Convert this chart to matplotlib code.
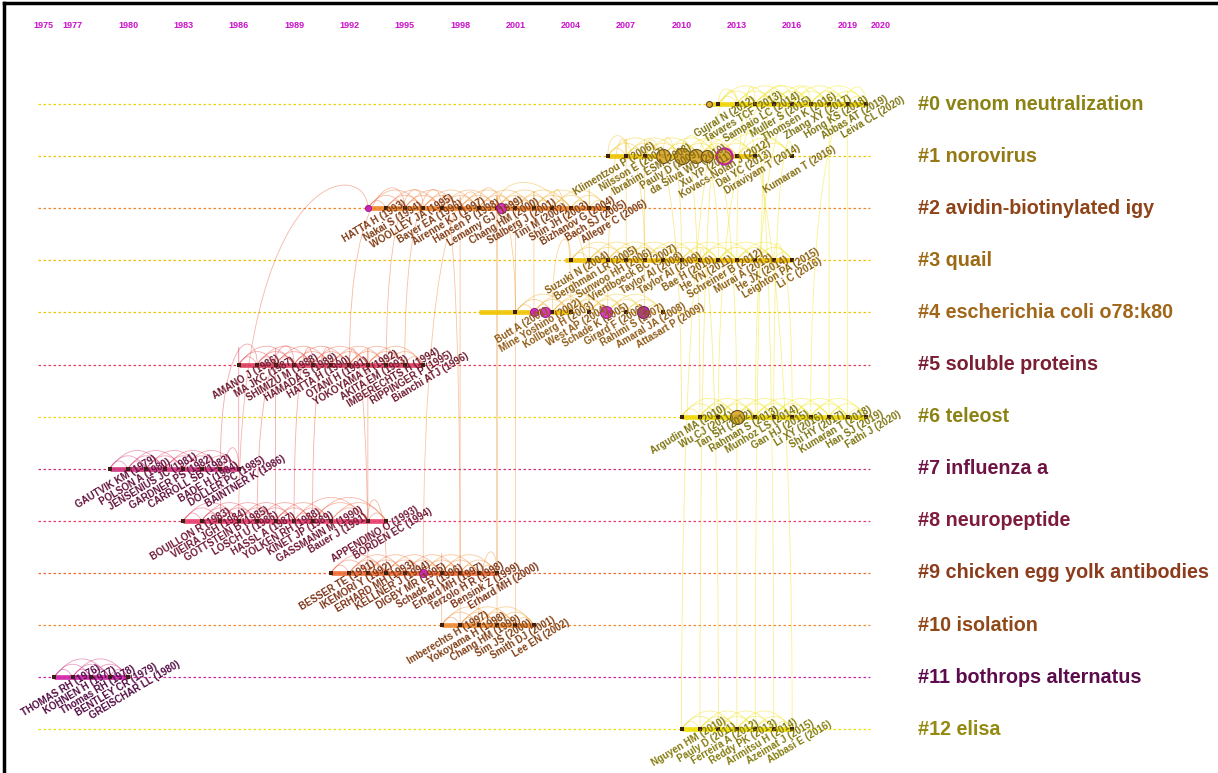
import numpy as np
import matplotlib.pyplot as plt
from matplotlib.colors import LinearSegmentedColormap, to_rgb
from matplotlib.path import Path
from matplotlib.patches import PathPatch

plt.rcParams['font.family'] = ['Liberation Sans', 'DejaVu Sans']

# --- timeline data ---
tick_labels = ['1975', '1977', '1980', '1983', '1986', '1989', '1992', '1995', '1998',
               '2001', '2004', '2007', '2010', '2013', '2016', '2019', '2020']
tick_pos = [1975.4, 1977, 1980, 1983, 1986, 1989, 1992, 1995, 1998,
            2001, 2004, 2007, 2010, 2013, 2016, 2019, 2020.8]

cluster_names = ['#0 venom neutralization', '#1 norovirus', '#2 avidin-biotinylated igy',
                 '#3 quail', '#4 escherichia coli o78:k80', '#5 soluble proteins',
                 '#6 teleost', '#7 influenza a', '#8 neuropeptide',
                 '#9 chicken egg yolk antibodies', '#10 isolation',
                 '#11 bothrops alternatus', '#12 elisa']

authors = [
    ['Gujral N', 'Tavares TCF', 'Sampaio LC', 'Muller S', 'Thomsen K', 'Zhang XY',
     'Hong KS', 'Abbas AT', 'Leiva CL'],
    ['Klimentzou P', 'Nilsson E', 'Ibrahim ESM', 'Pauly D', 'da Silva WD', 'Xu YP',
     'Kovacs-Nolan J', 'Dai YC', 'Diraviyam T', 'Kumaran T'],
    ['HATTA H', 'Nakai S', 'WOOLLEY JA', 'Bayer EA', 'Airenne KJ', 'Hansen P',
     'Lemamy GJ', 'Chang HM', 'Stalberg J', 'Tini M', 'Shin JH', 'Bizhanov G',
     'Bach SJ', 'Allegre C'],
    ['Suzuki N', 'Berghman LR', 'Sunwoo HH', 'Viertlboeck BC', 'Taylor AI', 'Taylor AI',
     'Bae H', 'He YN', 'Schreiner B', 'Murai A', 'He JX', 'Leighton PA', 'Li C'],
    ['Butt A', 'Mine Yoshino', 'Kollberg H', 'West AP', 'Schade K', 'Girard F',
     'Rahimi S', 'Amaral JA', 'Attasart P'],
    ['AMANO J', 'MA JKC', 'SHIMIZU M', 'HAMADA S', 'HATTA H', 'OTANI H', 'YOKOYAMA H',
     'AKITA EM', 'IMBERECHTS H', 'RIPPINGER P', 'Bianchi ATJ'],
    ['Argudin MA', 'Wu CJ', 'Tan SH', 'Rahman S', 'Munhoz LS', 'Gan HJ', 'Li XY',
     'Shi HY', 'Kumaran T', 'Han SJ', 'Fathi J'],
    ['GAUTVIK KM', 'POLSON A', 'JENSENIUS JC', 'GARDNER PS', 'CARROLL SB', 'BADE H',
     'DOLLER PC', 'BAINTNER K'],
    ['BOUILLON R', 'VIEIRA JGH', 'GOTTSTEIN B', 'LOSCH U', 'HASSL A', 'YOLKEN RH',
     'KINET JP', 'GASSMANN M', 'Bauer J', 'APPENDINO O', 'BORDEN EC'],
    ['BESSER TE', 'IKEMORI Y', 'ERHARD MH', 'KELLNER J', 'DIGBY MR', 'Schade R',
     'Erhard MH', 'Terzolo H R', 'Bensink Z', 'Erhard MH'],
    ['Imberechts H', 'Yokoyama H', 'Chang HM', 'Sim JS', 'Smith DJ', 'Lee EN'],
    ['THOMAS RH', 'KOHNEN H', 'Thomas RH', 'BENTLEY CR', 'GREISCHAR LL'],
    ['Nguyen HM', 'Pauly D', 'Ferreira A', 'Reddy PK', 'Arimitsu H', 'Azeimat J',
     'Abbasi E'],
]

years = [
    [2012, 2013, 2014, 2015, 2016, 2017, 2018, 2019, 2020],
    [2006, 2007, 2008, 2009, 2010, 2011, 2012, 2013, 2014, 2016],
    [1993, 1994, 1995, 1996, 1997, 1998, 1999, 2000, 2001, 2002, 2003, 2004, 2005, 2006],
    [2004, 2005, 2006, 2007, 2008, 2009, 2010, 2011, 2012, 2013, 2014, 2015, 2016],
    [2001, 2002, 2003, 2004, 2005, 2006, 2007, 2008, 2009],
    [1986, 1987, 1988, 1989, 1990, 1991, 1992, 1993, 1994, 1995, 1996],
    [2010, 2011, 2012, 2013, 2014, 2015, 2016, 2017, 2018, 2019, 2020],
    [1979, 1980, 1981, 1982, 1983, 1984, 1985, 1986],
    [1983, 1984, 1985, 1986, 1987, 1988, 1989, 1990, 1991, 1993, 1994],
    [1991, 1992, 1993, 1994, 1995, 1996, 1997, 1998, 1999, 2000],
    [1997, 1998, 1999, 2000, 2001, 2002],
    [1976, 1977, 1978, 1979, 1980],
    [2010, 2011, 2012, 2013, 2014, 2015, 2016],
]

# active span of each cluster (thick bar)
span_start = [2011.5, 2006, 1993, 2003.7, 1999, 1986, 2010, 1979, 1983, 1991, 1997, 1976, 2010]
span_end = [2020, 2014, 2006, 2016, 2004, 1996, 2020, 1986, 1994, 2000, 2002, 1980, 2016]

# highly cited / high-centrality nodes: cluster, year, radius (px), kind
big_cluster = [1, 1, 1, 1, 1, 2, 2, 4, 4, 4, 4, 6, 9, 0]
big_year = [2009, 2010, 2010.8, 2011.4, 2012.3, 1993, 2000.2, 2002, 2002.6, 2005.9, 2007.9, 2013, 1996, 2011.5]
big_size = [7, 8, 7, 6, 8, 3, 5, 4, 5, 6, 6, 7, 4, 3]
big_kind = ['tan', 'tan', 'tan', 'tan', 'ring', 'magenta', 'magenta', 'magenta', 'magenta',
            'magenta', 'purple', 'tan', 'magenta', 'tan']

# links between clusters: (cluster, year) -> (cluster, year)
link_from = [(12, 2010), (12, 2011), (12, 2013), (12, 2014), (12, 2015), (6, 2012), (6, 2013),
             (6, 2014), (6, 2016), (6, 2018), (6, 2019), (3, 2010), (3, 2012), (3, 2013),
             (6, 2011), (12, 2012), (6, 2015), (4, 2006), (4, 2008), (3, 2008), (6, 2010),
             (12, 2016), (10, 2001), (9, 2000), (10, 1998), (4, 2001), (9, 1998), (5, 1992),
             (8, 1988), (8, 1987), (8, 1989), (8, 1986), (7, 1985), (7, 1986), (8, 1990),
             (9, 1993), (9, 1994), (8, 1993), (10, 1997), (4, 2002), (5, 1994), (4, 2003),
             (3, 2005), (8, 1985), (5, 1995), (9, 1996), (10, 1999), (4, 2004), (3, 2007),
             (6, 2017), (4, 2005), (10, 2000)]
link_to = [(0, 2013), (1, 2012), (6, 2013), (0, 2015), (1, 2014), (0, 2016), (1, 2011),
           (0, 2017), (3, 2015), (0, 2018), (0, 2019), (1, 2009), (1, 2010), (0, 2014),
           (1, 2010), (3, 2011), (1, 2016), (1, 2007), (1, 2008), (1, 2006), (1, 2008),
           (0, 2012), (2, 2001), (2, 2000), (2, 1998), (2, 1999), (2, 1997), (2, 1995),
           (5, 1988), (5, 1989), (5, 1990), (2, 1993), (5, 1987), (5, 1986), (5, 1991),
           (5, 1992), (8, 1993), (5, 1993), (9, 1997), (2, 2002), (2, 1996), (3, 2004),
           (2, 2005), (7, 1986), (2, 1997), (2, 1999), (9, 2000), (2, 2003), (1, 2007),
           (0, 2020), (2, 2000), (2, 2000)]

# --- styling ---
label_colors = ['#8c8214', '#957a14', '#8e4418', '#9c6a14', '#a0661a', '#7a1e34', '#8c8214',
                '#6e1444', '#7e1c3c', '#8c3c1c', '#904818', '#5c0c4c', '#948a10']
line_colors = ['#f0d400', '#ecc400', '#f08428', '#f0c000', '#f0c400', '#e03a5c', '#f0d800',
               '#d0307a', '#e83a6a', '#f06a30', '#f08a30', '#d020a8', '#f0e000']
year_cmap = LinearSegmentedColormap.from_list(
    'yrs', ['#b0208c', '#e0306a', '#e84a40', '#f07a30', '#f0b020', '#f0dc10', '#f4e800'])

PX_YR, PX_ROW = 18.45, 52.1
X0 = 1980 - 128 / PX_YR
Y0 = -104 / PX_ROW

fig = plt.figure(figsize=(12.18, 7.73), dpi=100)
ax = fig.add_axes([0, 0, 1, 1])
ax.set_xlim(X0, X0 + 1218 / PX_YR)
ax.set_ylim(Y0 + 773 / PX_ROW, Y0)
ax.axis('off')


def ycol(y):
    return year_cmap((y - 1975) / 45)


def darker(c, f=0.75):
    return tuple(v * f for v in to_rgb(c))


# year ticks on top
for p, t in zip(tick_pos, tick_labels):
    ax.text(p, Y0 + 26 / PX_ROW, t, color='#cc10cc', fontsize=6.5, fontweight='bold',
            ha='center', va='center')

# cluster lines, spans, labels
for r, name in enumerate(cluster_names):
    ax.plot([1975.1, 2020.2], [r, r], color=line_colors[r], lw=0.9,
            linestyle=(0, (2, 2)), zorder=1)
    ax.plot([span_start[r], span_end[r]], [r, r], color=line_colors[r], lw=3.4,
            solid_capstyle='butt', zorder=2, alpha=0.9)
    ax.text(X0 + 918 / PX_YR, r, name, color=label_colors[r], fontsize=14.2,
            fontweight='bold', ha='left', va='center')

# arcs inside each cluster
for r, ys in enumerate(years):
    for i in range(len(ys)):
        for k in (1, 2, 3):
            if i + k < len(ys):
                xa, xb = ys[i], ys[i + k]
                h = min(0.1 * (xb - xa) + 0.05, 0.55)
                path = Path([(xa, r), ((xa + xb) / 2, r - 2 * h), (xb, r)],
                            [Path.MOVETO, Path.CURVE3, Path.CURVE3])
                ax.add_patch(PathPatch(path, fc='none', ec=ycol(xb), lw=0.6,
                                       alpha=0.45, zorder=2))

# links between clusters
for (ra, xa), (rb, xb) in zip(link_from, link_to):
    top = min(ra, rb)
    h = 0.6 + 0.05 * abs(xb - xa)
    path = Path([(xa, ra), (xa, top - h), (xb, top - h), (xb, rb)],
                [Path.MOVETO, Path.CURVE4, Path.CURVE4, Path.CURVE4])
    ax.add_patch(PathPatch(path, fc='none', ec=ycol(max(xa, xb)), lw=0.6,
                           alpha=0.45, zorder=1.5))

# nodes and their labels
for r, (names, ys) in enumerate(zip(authors, years)):
    ax.scatter(ys, [r] * len(ys), s=6, marker='s', color='#3a2010', zorder=4, lw=0)
    tc = darker(label_colors[r], 0.9)
    for a, y in zip(names, ys):
        ax.text(y + 7 / PX_YR, r + 13 / PX_ROW, f'{a} ({y})', color=tc, fontsize=7,
                fontweight='bold', rotation=31, ha='center', va='center',
                rotation_mode='anchor', zorder=5)

kind_style = {'tan': ('#d9a830', '#5a3a10', 0.8),
              'ring': ('#d9a830', '#c000c0', 1.6),
              'magenta': ('#d828c8', '#9a1090', 0.8),
              'purple': ('#b0209a', '#6a1060', 0.8)}
for c, y, s, k in zip(big_cluster, big_year, big_size, big_kind):
    fc, ec, lw = kind_style[k]
    ax.scatter([y], [c], s=(2 * s * 0.72) ** 2, facecolor=fc, edgecolor=ec,
               linewidth=lw, zorder=4.5, alpha=0.9)

# image frame (left and top)
fig.add_artist(plt.Line2D([0.003, 0.003], [0, 0.996], color='black', lw=2.5,
                          transform=fig.transFigure))
fig.add_artist(plt.Line2D([0.003, 1], [0.996, 0.996], color='black', lw=2.5,
                          transform=fig.transFigure))

fig.savefig('out.png', dpi=100)
